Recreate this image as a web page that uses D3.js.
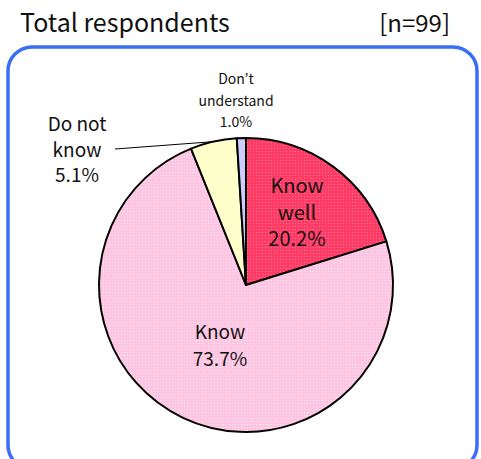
<!DOCTYPE html>
<html><head><meta charset="utf-8">
<script src="https://cdn.jsdelivr.net/npm/d3@7"></script>
<style>body{margin:0;background:#fff}svg{display:block}</style>
</head><body>
<svg id="c" width="481" height="459"></svg>
<script>
const categories = ["Know well", "Know", "Do not know", "Don\u2019t understand"];
const values = [20.2, 73.7, 5.1, 1.0];
const labelLines = [["Know", "well", "20.2%"], ["Know", "73.7%"], ["Do not", "know", "5.1%"], ["Don\u2019t", "understand", "1.0%"]];
const title = "Total respondents";
const nLabel = "[n=99]";

const svg = d3.select("#c");
const font = "'Noto Sans CJK JP', 'Noto Sans', sans-serif";
const defs = svg.append("defs");
function pat(id, base, dot) {
  const p = defs.append("pattern").attr("id", id).attr("patternUnits", "userSpaceOnUse").attr("width", 3).attr("height", 3);
  p.append("rect").attr("width", 3).attr("height", 3).attr("fill", base);
  p.append("rect").attr("x", 1).attr("y", 1).attr("width", 1).attr("height", 1).attr("fill", dot);
}
pat("pRed", "#ff3a64", "#ff7a94");
pat("pPink", "#ffc4e2", "#fff0f8");
const fills = ["url(#pRed)", "url(#pPink)", "#ffffcc", "#ccccff"];

svg.append("rect").attr("x", 8).attr("y", 47).attr("width", 469).attr("height", 422)
  .attr("rx", 24).attr("fill", "none").attr("stroke", "#3a6ef5").attr("stroke-width", 3.5);

svg.append("text").attr("x", 20).attr("y", 32).attr("font-family", font).attr("font-size", 25)
  .attr("fill", "#111").text(title);
svg.append("text").attr("x", 450).attr("y", 32).attr("text-anchor", "end").attr("font-family", font)
  .attr("font-size", 24).attr("fill", "#111").text(nLabel);

const cx = 246, cy = 285, r = 147;
const pie = d3.pie().sort(null).value(d => d)(values);
const arc = d3.arc().innerRadius(0).outerRadius(r);
const g = svg.append("g").attr("transform", `translate(${cx},${cy})`);
g.selectAll("path").data(pie).join("path").attr("d", arc)
  .attr("fill", (d, i) => fills[i]).attr("stroke", "#000").attr("stroke-width", 2).attr("stroke-linejoin", "round");

// labels
const labelPos = [
  {x: 297, y: 193, size: 20, dy: 26.5},
  {x: 220, y: 339, size: 19, dy: 26.5},
  {x: 77, y: 131, size: 19, dy: 25.5},
  {x: 236, y: 84, size: 14, dy: 21.5}
];
labelLines.forEach((lines, i) => {
  const lp = labelPos[i];
  const t = svg.append("text").attr("font-family", font).attr("font-size", lp.size).attr("fill", "#111").attr("text-anchor", "middle");
  lines.forEach((s, j) => t.append("tspan").attr("x", lp.x).attr("y", lp.y + j * lp.dy).text(s));
});
// leader line for "Do not know"
const mid = (pie[2].startAngle + pie[2].endAngle) / 2;
svg.append("line").attr("x1", 115).attr("y1", 149)
  .attr("x2", cx + r * Math.sin(mid)).attr("y2", cy - r * Math.cos(mid))
  .attr("stroke", "#000").attr("stroke-width", 1);
</script>
</body></html>
